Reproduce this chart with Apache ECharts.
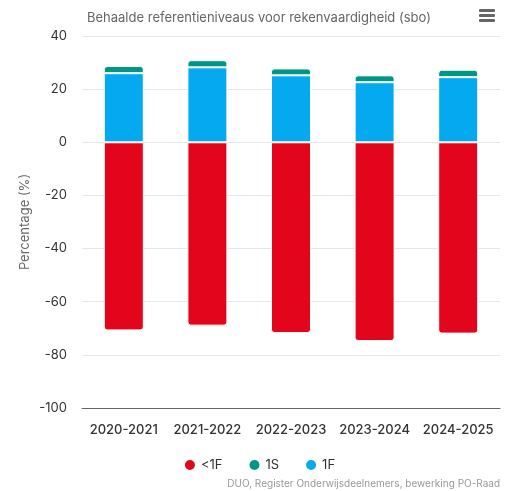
<!DOCTYPE html>
<html>
<head>
<meta charset="utf-8">
<script src="https://cdn.jsdelivr.net/npm/echarts@6/dist/echarts.min.js"></script>
<style>html,body{margin:0;padding:0;background:#fff}#c{width:518px;height:491px}</style>
</head>
<body>
<div id="c"></div>
<script>
const categories = ['2020-2021', '2021-2022', '2022-2023', '2023-2024', '2024-2025'];
const below1F = [-70.8, -69.0, -71.8, -74.8, -72.0];
const level1F = [26.0, 28.2, 25.2, 22.6, 24.5];
const level1S = [2.7, 2.7, 2.6, 2.6, 2.8];
const yTicks = [-100, 40, 20];

const font = 'Inter, "Noto Sans", sans-serif';
const chart = echarts.init(document.getElementById('c'));
chart.setOption({
  animation: false,
  title: {
    text: 'Behaalde referentieniveaus voor rekenvaardigheid (sbo)',
    left: 82, top: 7,
    textStyle: { fontSize: 13, fontWeight: 'normal', color: '#666', fontFamily: font }
  },
  legend: {
    data: ['<1F', '1S', '1F'],
    bottom: 14, left: 'center',
    icon: 'circle', itemWidth: 12, itemHeight: 12, itemGap: 25,
    textStyle: { fontSize: 13, color: '#333', fontFamily: font }
  },
  grid: { left: 82, right: 18, top: 36, bottom: 83, containLabel: false },
  xAxis: {
    type: 'category', data: categories,
    axisLine: { onZero: false, lineStyle: { color: '#666', width: 1 } },
    axisTick: { show: false },
    axisLabel: { interval: 0, fontSize: 13, color: '#333', margin: 16, fontFamily: font, fontWeight: 500 }
  },
  yAxis: {
    type: 'value', min: yTicks[0], max: yTicks[1], interval: yTicks[2],
    name: 'Percentage (%)', nameLocation: 'middle', nameGap: 50, nameRotate: 90,
    nameMoveOverlap: false,
    nameTextStyle: { fontSize: 13, color: '#666', fontFamily: font },
    axisLine: { show: false }, axisTick: { show: false },
    axisLabel: { fontSize: 13, color: '#333', margin: 15, fontFamily: font },
    splitLine: { lineStyle: { color: '#e6e6e6' } }
  },
  series: [
    { name: '<1F', type: 'bar', stack: 't', data: below1F, barWidth: 40,
      itemStyle: { color: '#e3051b', borderColor: '#fff', borderWidth: 1, borderRadius: [0, 0, 3, 3] } },
    { name: '1F', type: 'bar', stack: 't', data: level1F, barWidth: 40,
      itemStyle: { color: '#05a9f0', borderColor: '#fff', borderWidth: 1 } },
    { name: '1S', type: 'bar', stack: 't', data: level1S, barWidth: 40,
      itemStyle: { color: '#009684', borderColor: '#fff', borderWidth: 1, borderRadius: [3, 3, 0, 0] } }
  ],
  graphic: [
    { type: 'rect', shape: { x: 479, y: 9, width: 16, height: 3, r: 1 }, style: { fill: '#666' } },
    { type: 'rect', shape: { x: 479, y: 14, width: 16, height: 3, r: 1 }, style: { fill: '#666' } },
    { type: 'rect', shape: { x: 479, y: 19, width: 16, height: 3, r: 1 }, style: { fill: '#666' } },
    { type: 'text', right: 18, top: 479,
      style: { text: 'DUO, Register Onderwijsdeelnemers, bewerking PO-Raad', fontSize: 10, fill: '#999', fontFamily: font } }
  ]
});
</script>
</body>
</html>
